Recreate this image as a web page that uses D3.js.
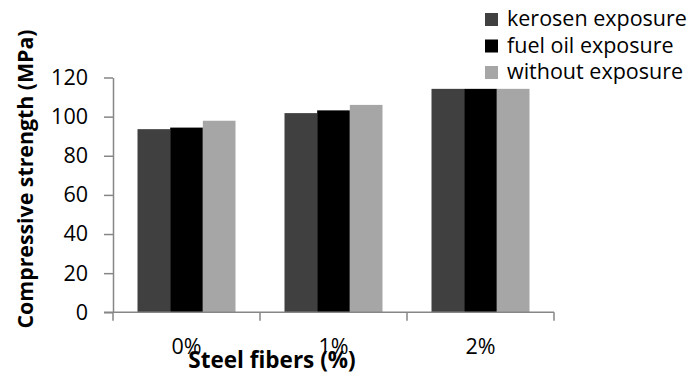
<!DOCTYPE html>
<html>
<head>
<meta charset="utf-8">
<script src="https://cdn.jsdelivr.net/npm/d3@7"></script>
<style>
  html, body { margin: 0; padding: 0; background: #fff; }
  svg { display: block; font-family: "Open Sans", sans-serif; }
</style>
</head>
<body>
<svg id="chart" width="700" height="380"></svg>
<script>
// Compressive strength by steel fiber content and exposure condition
const categories = ["0%", "1%", "2%"];
const seriesNames = ["kerosen exposure", "fuel oil exposure", "without exposure"];
const kerosen = [93.6, 101.8, 114.2];
const fuelOil = [94.4, 103.2, 114.2];
const withoutExposure = [97.9, 106.0, 114.2];
const yTicks = [0, 20, 40, 60, 80, 100, 120];
const colors = ["#404040", "#000000", "#a6a6a6"];

const seriesValues = [kerosen, fuelOil, withoutExposure];

const svg = d3.select("#chart");
const axisColor = "#868686";

const plot = { left: 113, right: 554, top: 77.5, bottom: 312.3 };

const x = d3.scaleBand()
  .domain(categories)
  .range([plot.left, plot.right])
  .paddingInner(1 / 3)
  .paddingOuter(1 / 6);

const xInner = d3.scaleBand()
  .domain(seriesNames)
  .range([0, x.bandwidth()]);

const y = d3.scaleLinear()
  .domain([0, 120])
  .range([plot.bottom, plot.top]);

// Bars
categories.forEach((cat, ci) => {
  const g = svg.append("g").attr("transform", `translate(${x(cat)},0)`);
  seriesNames.forEach((name, si) => {
    const v = seriesValues[si][ci];
    g.append("rect")
      .attr("x", xInner(name))
      .attr("y", y(v))
      .attr("width", xInner.bandwidth())
      .attr("height", y(0) - y(v))
      .attr("fill", colors[si]);
  });
});

// Y axis
const yAxis = svg.append("g")
  .attr("transform", `translate(${plot.left},0)`)
  .call(d3.axisLeft(y).tickValues(yTicks).tickSize(9).tickPadding(16).tickSizeOuter(0));
yAxis.select(".domain").attr("stroke", axisColor).attr("stroke-width", 1.5);
yAxis.selectAll(".tick line").attr("stroke", axisColor).attr("stroke-width", 1.5);
yAxis.selectAll(".tick text")
  .attr("fill", "#000")
  .style("font-family", "'Open Sans', sans-serif")
  .style("font-size", "21.5px");

// X axis with tick marks at category boundaries
const xAxisG = svg.append("g").attr("transform", `translate(0,${plot.bottom})`);
xAxisG.append("line")
  .attr("x1", plot.left - 9).attr("x2", plot.right)
  .attr("y1", 0).attr("y2", 0)
  .attr("stroke", axisColor).attr("stroke-width", 1.5);
const step = x.step();
const boundaries = [plot.left].concat(categories.map(c => x(c) - x.paddingInner() * step / 2 + step));
xAxisG.selectAll("line.bnd")
  .data(boundaries)
  .join("line")
  .attr("class", "bnd")
  .attr("x1", d => d).attr("x2", d => d)
  .attr("y1", 0).attr("y2", 8.5)
  .attr("stroke", axisColor).attr("stroke-width", 1.5);
xAxisG.selectAll("text.cat")
  .data(categories)
  .join("text")
  .attr("class", "cat")
  .attr("x", d => x(d) + x.bandwidth() / 2)
  .attr("y", 42)
  .attr("text-anchor", "middle")
  .style("font-size", "21.5px")
  .text(d => d);

// Axis titles
svg.append("text")
  .attr("x", 272)
  .attr("y", 368)
  .attr("text-anchor", "middle")
  .style("font-size", "22.5px")
  .style("font-weight", "bold")
  .text("Steel fibers (%)");

svg.append("text")
  .attr("transform", "translate(33,179) rotate(-90)")
  .attr("text-anchor", "middle")
  .style("font-size", "21.3px")
  .style("font-weight", "bold")
  .text("Compressive strength (MPa)");

// Legend
const legend = svg.append("g").attr("transform", "translate(485,13)");
seriesNames.forEach((name, i) => {
  const row = legend.append("g").attr("transform", `translate(0,${i * 26.5})`);
  row.append("rect")
    .attr("width", 13).attr("height", 13)
    .attr("fill", colors[i]);
  row.append("text")
    .attr("x", 22)
    .attr("y", 13)
    .style("font-size", "21.5px")
    .text(name);
});
</script>
</body>
</html>
